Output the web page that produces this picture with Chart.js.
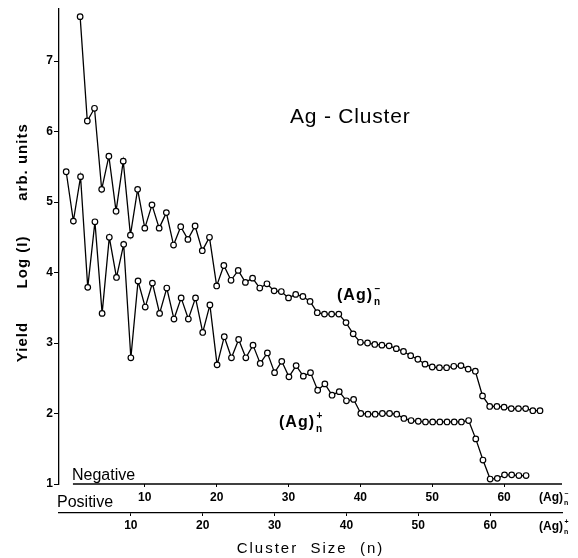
<!DOCTYPE html>
<html>
<head>
<meta charset="utf-8">
<script src="https://cdn.jsdelivr.net/npm/chart.js@4.4.0/dist/chart.umd.min.js"></script>
<style>
  html, body { margin: 0; padding: 0; background: #fff; }
  #wrap { width: 578px; height: 558px; }
</style>
</head>
<body>
<div id="wrap"><canvas id="agChart" width="578" height="558"></canvas></div>
<script>
// ag-cluster.js - yield vs cluster size for negative and positive silver clusters

const FONT = '"Liberation Sans", Arial, sans-serif';

const CLUSTER_N = [
    1, 2, 3, 4, 5, 6, 7, 8, 9, 10, 11, 12, 13, 14, 15, 16, 17, 18, 19, 20,
    21, 22, 23, 24, 25, 26, 27, 28, 29, 30, 31, 32, 33, 34, 35, 36, 37, 38, 39, 40,
    41, 42, 43, 44, 45, 46, 47, 48, 49, 50, 51, 52, 53, 54, 55, 56, 57, 58, 59, 60,
    61, 62, 63, 64, 65
];

// (Ag)n-  log yield
const NEG_YIELD = [
    7.63, 6.15, 6.33, 5.18, 5.65, 4.87, 5.58, 4.53, 5.18, 4.63,
    4.96, 4.63, 4.85, 4.39, 4.65, 4.47, 4.66, 4.31, 4.50, 3.81,
    4.10, 3.89, 4.03, 3.86, 3.92, 3.78, 3.84, 3.74, 3.73, 3.64,
    3.69, 3.66, 3.59, 3.43, 3.41, 3.41, 3.41, 3.29, 3.13, 3.01,
    3.00, 2.98, 2.97, 2.96, 2.92, 2.88, 2.82, 2.77, 2.70, 2.66,
    2.65, 2.65, 2.67, 2.68, 2.63, 2.60, 2.25, 2.10, 2.10, 2.09,
    2.07, 2.07, 2.07, 2.04, 2.04
];

// (Ag)n+  log yield
const POS_YIELD = [
    5.43, 4.73, 5.36, 3.79, 4.72, 3.42, 4.50, 3.93, 4.40, 2.79,
    3.88, 3.51, 3.85, 3.42, 3.78, 3.34, 3.64, 3.34, 3.64, 3.15,
    3.54, 2.69, 3.09, 2.79, 3.05, 2.79, 2.97, 2.71, 2.86, 2.58,
    2.74, 2.52, 2.68, 2.53, 2.58, 2.33, 2.42, 2.26, 2.31, 2.18,
    2.20, 2.00, 1.99, 1.99, 2.00, 2.00, 1.99, 1.93, 1.90, 1.89,
    1.88, 1.88, 1.88, 1.88, 1.88, 1.88, 1.90, 1.64, 1.34, 1.07,
    1.08, 1.13, 1.13, 1.12, 1.12
];

const X_TICKS = [10, 20, 30, 40, 50, 60];
const Y_TICKS = [1, 2, 3, 4, 5, 6, 7];

const X_MAX = 70;
const NEG_SHIFT = 1.94;   // negative-ion scale sits a little right of the positive one
const Y_MIN = 1;
const Y_MAX = 7.75;

function toPoints(ys) {
    return CLUSTER_N.map((n, i) => ({ x: n, y: ys[i] }));
}

function fixedTicks(list) {
    return scale => { scale.ticks = list.map(v => ({ value: v })); };
}

function spacing(ctx, px) {
    if ('letterSpacing' in ctx) ctx.letterSpacing = px + 'px';
}

// draws "(Ag)" with subscript n and a charge sign on top
function ionLabel(ctx, x, y, sign, size, gap) {
    spacing(ctx, gap);
    ctx.font = `bold ${size}px ${FONT}`;
    ctx.textAlign = 'left';
    ctx.textBaseline = 'alphabetic';
    ctx.fillText('(Ag)', x, y);
    const w = ctx.measureText('(Ag)').width;
    spacing(ctx, 0);
    const small = Math.round(size * 0.62);
    ctx.font = `bold ${small}px ${FONT}`;
    ctx.fillText('n', x + w + 1, y + size * 0.3);
    ctx.fillText(sign, x + w + 1.5, y - size * 0.5);
}

const textPlugin = {
    id: 'figureText',
    afterDraw(chart) {
        const ctx = chart.ctx;
        const xNeg = chart.scales.xNeg;
        const area = chart.chartArea;
        ctx.save();
        ctx.fillStyle = '#000';
        ctx.strokeStyle = '#000';

        // negative axis line starts at its own zero
        ctx.lineWidth = 1.3;
        ctx.beginPath();
        ctx.moveTo(xNeg.getPixelForValue(0), xNeg.top);
        ctx.lineTo(xNeg.right, xNeg.top);
        ctx.stroke();

        ctx.textAlign = 'left';
        ctx.textBaseline = 'alphabetic';
        spacing(ctx, 0.8);
        ctx.font = `21px ${FONT}`;
        ctx.fillText('Ag - Cluster', 290, 123);

        spacing(ctx, 0);
        ctx.font = `16px ${FONT}`;
        ctx.fillText('Negative', 72, 480);
        ctx.fillText('Positive', 57, 507);

        ionLabel(ctx, 337, 300, '–', 16, 1);
        ionLabel(ctx, 279, 427, '+', 16, 1);
        ionLabel(ctx, 539, 501, '–', 12, 0);
        ionLabel(ctx, 539, 530, '+', 12, 0);

        // x title, spaced out like the original lettering
        spacing(ctx, 2);
        ctx.font = `15px ${FONT}`;
        ctx.textAlign = 'center';
        ctx.fillText('Cluster  Size  (n)', (area.left + area.right) / 2, 553);

        // y title, rotated, words spread along the axis
        spacing(ctx, 1);
        ctx.translate(27, 0);
        ctx.rotate(-Math.PI / 2);
        ctx.font = `bold 15px ${FONT}`;
        ctx.fillText('arb. units', -162, 0);
        ctx.fillText('Log (I)', -262, 0);
        ctx.fillText('Yield', -342, 0);
        ctx.restore();
    }
};

const lineStyle = {
    borderColor: '#000',
    borderWidth: 1.3,
    pointRadius: 2.8,
    pointBackgroundColor: '#fff',
    pointBorderColor: '#000',
    pointBorderWidth: 1.2,
    tension: 0,
    fill: false
};

const tickFont = { family: FONT, size: 12, weight: 'bold' };

new Chart(document.getElementById('agChart'), {
    type: 'line',
    data: {
        datasets: [
            { label: '(Ag)n-', data: toPoints(NEG_YIELD), xAxisID: 'xNeg', yAxisID: 'y', ...lineStyle },
            { label: '(Ag)n+', data: toPoints(POS_YIELD), xAxisID: 'xPos', yAxisID: 'y', ...lineStyle }
        ]
    },
    options: {
        responsive: false,
        animation: false,
        layout: { padding: { top: 5, right: 16, bottom: 0, left: 0 } },
        plugins: {
            legend: { display: false },
            tooltip: { enabled: false }
        },
        scales: {
            y: {
                type: 'linear',
                position: 'left',
                min: Y_MIN,
                max: Y_MAX,
                afterFit: s => { s.width = 59; },
                afterBuildTicks: fixedTicks(Y_TICKS),
                ticks: { color: '#000', font: tickFont, padding: 1 },
                grid: { drawOnChartArea: false, tickLength: 5, color: '#000' },
                border: { color: '#000', width: 1.3 }
            },
            xNeg: {
                type: 'linear',
                position: 'bottom',
                weight: 0,
                min: -NEG_SHIFT,
                max: X_MAX - NEG_SHIFT,
                afterFit: s => { s.height = 29; },
                afterBuildTicks: fixedTicks(X_TICKS),
                ticks: { color: '#000', font: tickFont, padding: 3, maxRotation: 0 },
                grid: { drawOnChartArea: false, tickLength: 3, color: '#000' },
                border: { display: false }
            },
            xPos: {
                type: 'linear',
                position: 'bottom',
                weight: 1,
                min: 0,
                max: X_MAX,
                afterFit: s => { s.height = 45; },
                afterBuildTicks: fixedTicks(X_TICKS),
                ticks: { color: '#000', font: tickFont, padding: 2, maxRotation: 0 },
                grid: { drawOnChartArea: false, tickLength: 3, color: '#000' },
                border: { color: '#000', width: 1.3 }
            }
        }
    },
    plugins: [textPlugin]
});
</script>
</body>
</html>
